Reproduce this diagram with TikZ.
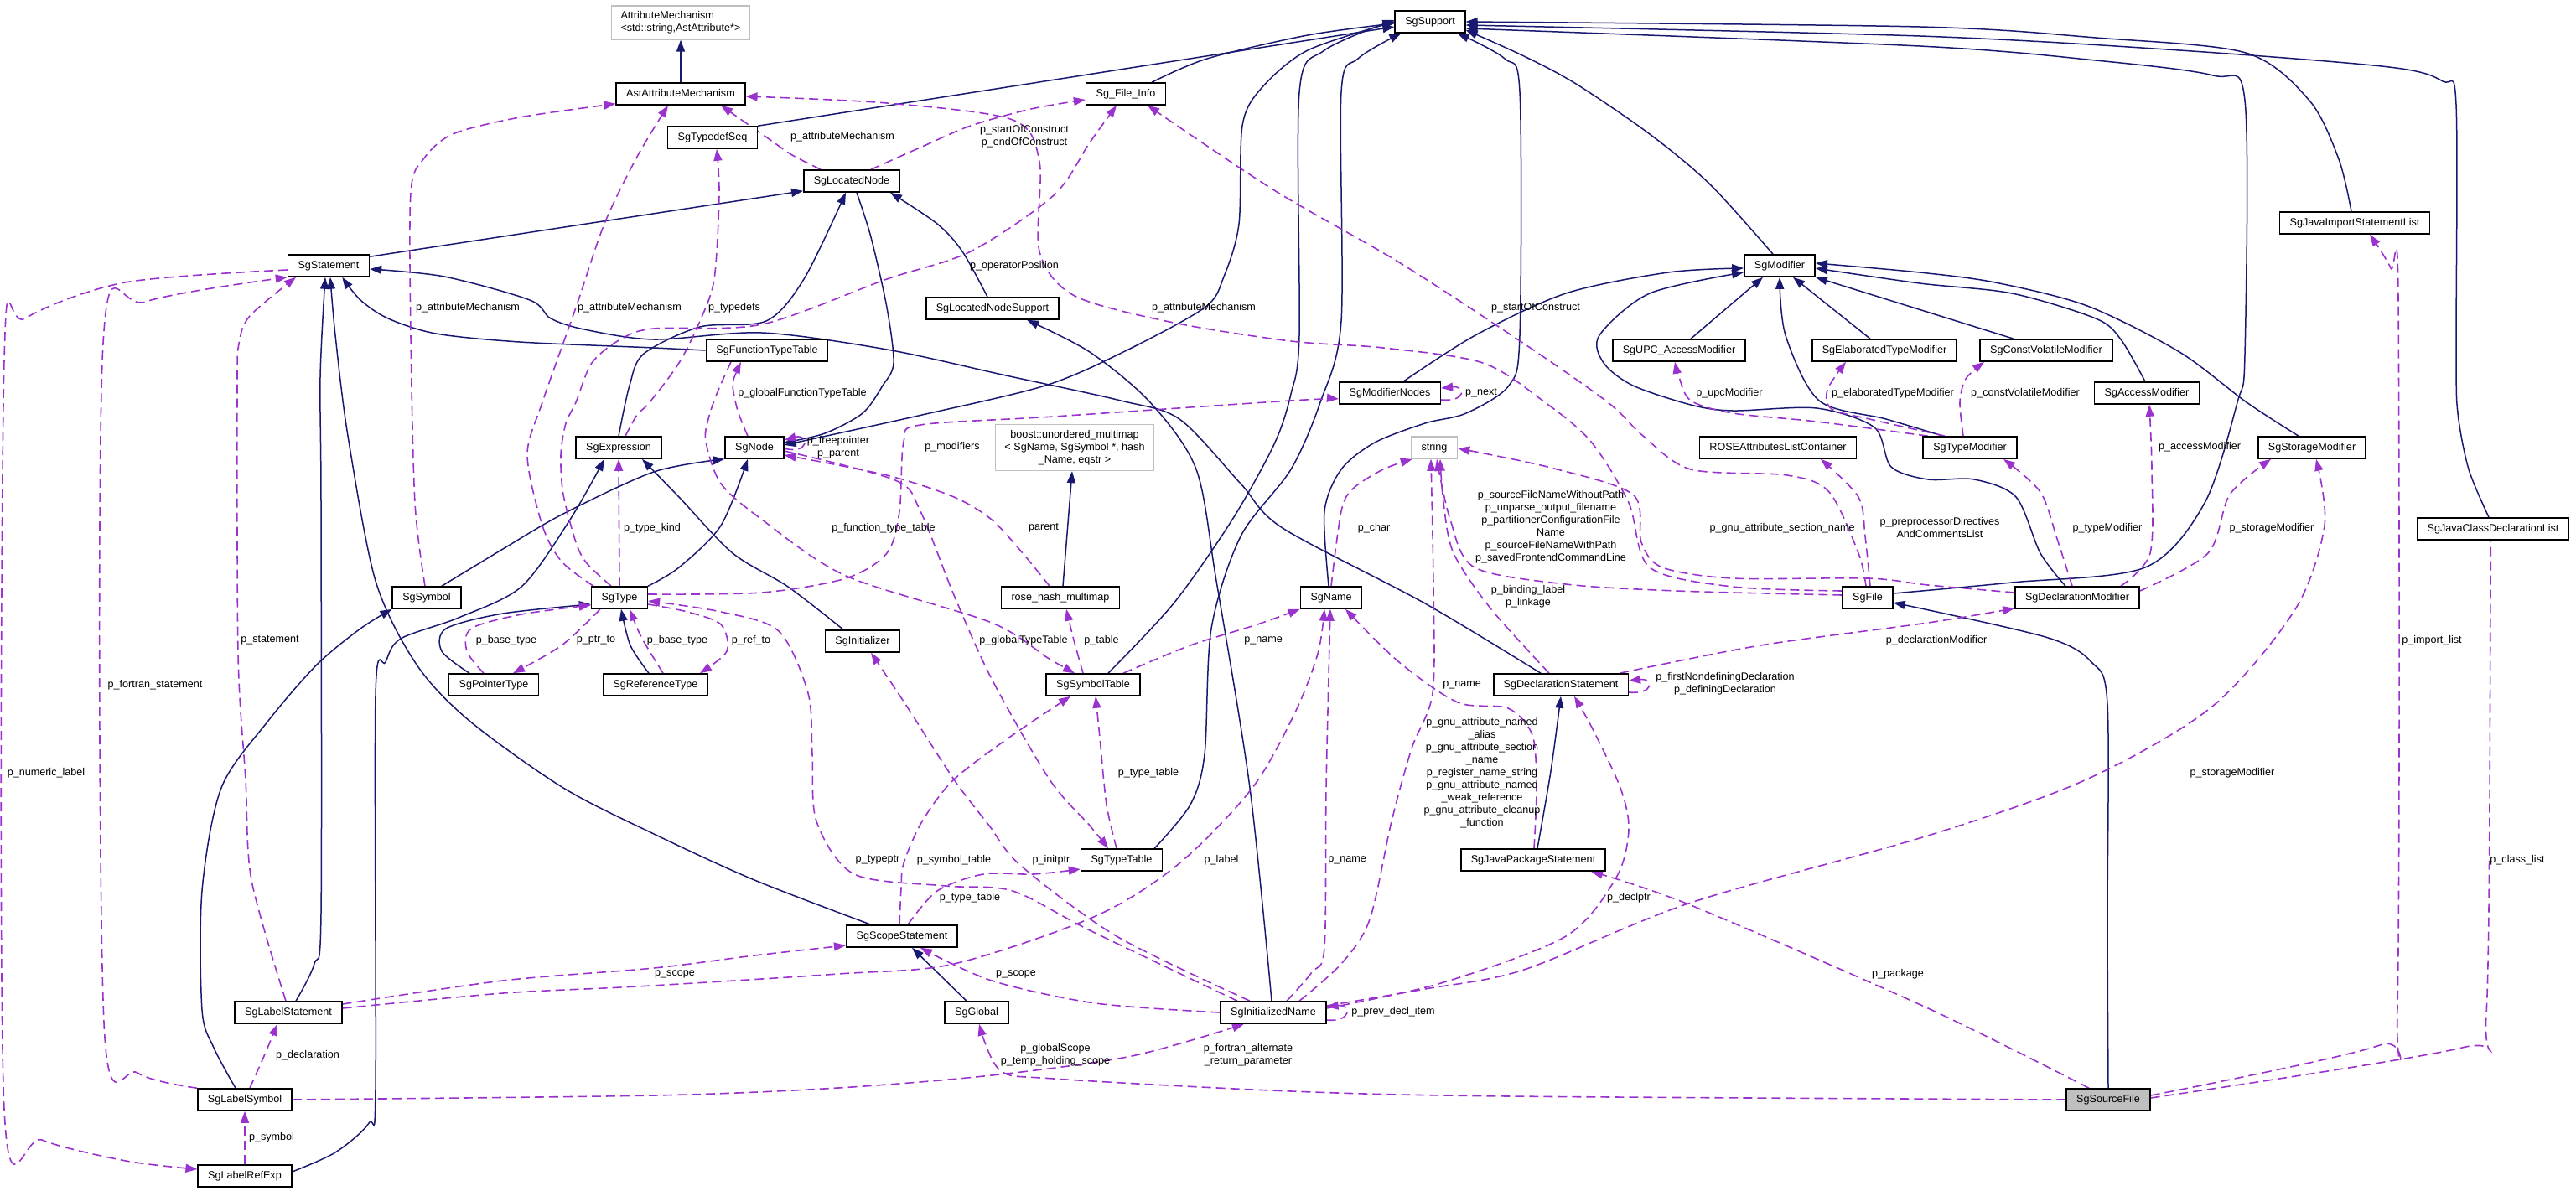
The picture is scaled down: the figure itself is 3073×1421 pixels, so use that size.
\documentclass[tikz,border=0pt]{standalone}
\usepackage{fontspec}
\usepackage{tikz}
\usetikzlibrary{arrows.meta,backgrounds}
\newfontfamily\graphfont{Liberation Sans}
\newcommand\gfont{\graphfont\fontsize{12.6}{15}\selectfont}
\definecolor{inhcol}{HTML}{191970}
\definecolor{memcol}{HTML}{9A32CD}
\tikzset{
  cls/.style    ={rectangle, draw=black, fill=white, line width=1.6pt, font=\gfont,
                  inner xsep=12pt, inner ysep=0pt, minimum height=26pt,
                  text height=9.5pt, text depth=2.5pt},
  ext/.style    ={cls, draw=black!25},
  extml/.style  ={rectangle, draw=black!25, fill=white, line width=1.6pt, font=\gfont,
                  inner xsep=11pt, inner ysep=6.5pt},
  cur/.style    ={cls, fill=black!25},
  inherit/.style={draw=inhcol, line width=1.5pt, -{Triangle[length=14pt,width=10pt]}},
  member/.style ={draw=memcol, line width=1.6pt, dash pattern=on 11pt off 6pt,
                  -{Triangle[length=14pt,width=10pt]}},
  lbl/.style    ={font=\gfont, inner sep=0pt, align=center},
}

\begin{document}
\begin{tikzpicture}[x=1pt, y=-1pt]
  \useasboundingbox (0,0) rectangle (3073,1421);

  % classes
  \node[extml, align=left] (AttMech) at (812,27) {AttributeMechanism\\<std::string,AstAttribute*>};
  \node[cls] (AstAttMech)   at (812,112)  {AstAttributeMechanism};
  \node[cls] (TypedefSeq)   at (850,164)  {SgTypedefSeq};
  \node[cls] (LocatedNode)  at (1016,216) {SgLocatedNode};
  \node[cls] (FileInfo)     at (1343,112) {Sg\_File\_Info};
  \node[cls] (Support)      at (1706,26)  {SgSupport};
  \node[cls] (LocNodeSupport) at (1184,368) {SgLocatedNodeSupport};
  \node[cls] (FuncTypeTable) at (915,418) {SgFunctionTypeTable};
  \node[cls] (Statement)    at (392,317)  {SgStatement};
  \node[cls] (Modifier)     at (2123,317) {SgModifier};
  \node[cls] (UPCAccess)    at (2003,418) {SgUPC\_AccessModifier};
  \node[cls] (ElabType)     at (2248,418) {SgElaboratedTypeModifier};
  \node[cls] (ConstVol)     at (2441,418) {SgConstVolatileModifier};
  \node[cls] (ModNodes)     at (1658,469) {SgModifierNodes};
  \node[cls] (AccessMod)    at (2561,469) {SgAccessModifier};
  \node[cls] (JavaImport)   at (2809,266) {SgJavaImportStatementList};
  \node[cls] (Expression)   at (738,534)  {SgExpression};
  \node[cls] (Node)         at (900,534)  {SgNode};
  \node[extml, align=center] (Boost) at (1282,534) {boost::unordered\_multimap\\< SgName, SgSymbol *, hash\\\_Name, eqstr >};
  \node[ext] (String)       at (1711,534) {string};
  \node[cls] (ROSEAttr)     at (2121,534) {ROSEAttributesListContainer};
  \node[cls] (TypeMod)      at (2350,534) {SgTypeModifier};
  \node[cls] (StorageMod)   at (2758,534) {SgStorageModifier};
  \node[cls] (Symbol)       at (509,713)  {SgSymbol};
  \node[cls] (Type)         at (739,713)  {SgType};
  \node[cls] (RoseHash)     at (1265,713) {rose\_hash\_multimap};
  \node[cls] (Name)         at (1588,713) {SgName};
  \node[cls] (File)         at (2228,713) {SgFile};
  \node[cls] (DeclMod)      at (2478,713) {SgDeclarationModifier};
  \node[cls] (JavaClassList) at (2974,631) {SgJavaClassDeclarationList};
  \node[cls] (Initializer)  at (1029,765) {SgInitializer};
  \node[cls] (PointerType)  at (589,817)  {SgPointerType};
  \node[cls] (RefType)      at (782,817)  {SgReferenceType};
  \node[cls] (SymbolTable)  at (1304,817) {SgSymbolTable};
  \node[cls] (DeclStmt)     at (1862,817) {SgDeclarationStatement};
  \node[cls] (TypeTable)    at (1338,1026) {SgTypeTable};
  \node[cls] (JavaPackage)  at (1829,1026) {SgJavaPackageStatement};
  \node[cls] (ScopeStmt)    at (1076,1117) {SgScopeStatement};
  \node[cls] (LabelStmt)    at (344,1208) {SgLabelStatement};
  \node[cls] (Global)       at (1165,1208) {SgGlobal};
  \node[cls] (InitName)     at (1519,1208) {SgInitializedName};
  \node[cls] (LabelSymbol)  at (292,1312) {SgLabelSymbol};
  \node[cur] (SourceFile)   at (2515,1312) {SgSourceFile};
  \node[cls] (LabelRefExp)  at (292,1403) {SgLabelRefExp};

  \begin{scope}[on background layer]
  % inheritance
  \draw[inherit] (AstAttMech) -- (AttMech);
  \draw[inherit] (TypedefSeq.north east) -- ([yshift=-6pt]Support.west);
  \draw[inherit] plot[smooth] coordinates {([xshift=31pt]FileInfo.north) (1440,70) (1560,42) ([yshift=-2pt]Support.west)};
  \draw[inherit] ([yshift=-3pt]Statement.north east) -- ([yshift=2pt]LocatedNode.south west);
  \draw[inherit] plot[smooth] coordinates {(Expression.north) (751,460) (768,422) (835,390) (914,383) (959,333) ([xshift=-7pt]LocatedNode.south)};
  \draw[inherit] plot[smooth] coordinates {([xshift=-6pt]LocNodeSupport.north) (1148,300) (1118,267) ([xshift=-12pt]LocatedNode.south east)};
  \draw[inherit] plot[smooth] coordinates {([xshift=6pt]LocatedNode.south) (1039,283) (1058,367) (1066,433) (1053,460) (1029,493) (984,517) ([yshift=6pt]Node.east)};
  \draw[inherit] plot[smooth] coordinates {(Support.west) (1560,60) (1505,105) (1482,150) (1478,267) (1460,330) (1437,367) (1340,420) (1247,460) (1100,495) ([yshift=3pt]Node.east)};
  \draw[inherit] plot[smooth] coordinates {(FuncTypeTable.west) (780,415) (620,408) (520,398) (463,380) (430,358) ([xshift=-33pt]Statement.south east)};
  \draw[inherit] plot[smooth] coordinates {([xshift=-24pt]DeclStmt.north) (1700,720) (1530,630) (1480,577) (1407,500) (1337,478) (1200,448) (1058,417) (909,397) (780,405) (697,393) (657,380) (632,358) (530,330) ([yshift=-4pt]Statement.east)};
  \draw[inherit] plot[smooth] coordinates {([xshift=9pt]LabelStmt.north) (375,1150) (383,1090) (383,600) (382,450) ([xshift=-4pt]Statement.south)};
  \draw[inherit] plot[smooth] coordinates {([xshift=-37pt]ScopeStmt.north) (900,1050) (780,995) (672,940) (560,860) (497,793) (448,693) (415,520) (400,400) ([xshift=2pt]Statement.south)};
  \draw[inherit] plot[smooth] coordinates {([xshift=-8pt]Modifier.north) (2040,220) (1968,160) (1880,100) (1818,67) ([yshift=4pt]Support.south east)};
  \draw[inherit] plot[smooth] coordinates {([xshift=16pt]ModNodes.north) (1760,400) (1868,350) (1990,325) ([yshift=-3pt]Modifier.west)};
  \draw[inherit] ([xshift=14pt]UPCAccess.north) -- ([xshift=-20pt]Modifier.south);
  \draw[inherit] ([xshift=-17pt]ElabType.north) -- ([xshift=16pt]Modifier.south);
  \draw[inherit] ([xshift=-39pt]ConstVol.north) -- (Modifier.south east);
  \draw[inherit] plot[smooth] coordinates {([xshift=-32pt]TypeMod.north) (2250,500) (2170,478) (2130,400) (Modifier.south)};
  \draw[inherit] plot[smooth] coordinates {([xshift=-14pt]DeclMod.north) (2434,660) (2405,593) (2355,572) (2300,572) (2256,557) (2236,510) (2167,487) (2067,490) (2017,483) (1948,460) (1913,433) (1908,400) (1968,350) ([yshift=-8pt]Modifier.west)};
  \draw[inherit] plot[smooth] coordinates {([xshift=-16pt]StorageMod.north) (2680,480) (2600,420) (2490,365) (2380,337) (2290,325) ([yshift=3pt]Modifier.east)};
  \draw[inherit] plot[smooth] coordinates {([xshift=-2pt]AccessMod.north) (2530,405) (2500,380) (2400,350) (2290,338) ([yshift=-3pt]Modifier.east)};
  \draw[inherit] plot[smooth] coordinates {([xshift=-4pt]JavaImport.north) (2790,190) (2755,120) (2679,63) (2500,45) (2290,32) (Support.east)};
  \draw[inherit] plot[smooth] coordinates {([xshift=-5pt]JavaClassList.north) (2945,560) (2932,493) (2930,420) (2930,125) (2914,97) (2850,80) (2600,60) (2290,43) ([yshift=-4pt]Support.east)};
  \draw[inherit] plot[smooth] coordinates {([yshift=5pt]File.east) (2400,695) (2559,677) (2630,600) (2669,480) (2678,423) (2678,120) (2640,90) (2500,72) (2290,55) ([yshift=-8pt]Support.east)};
  \draw[inherit] plot[smooth] coordinates {([xshift=-3pt]Name.north) (1580,610) (1600,560) (1640,528) (1700,505) (1749,493) (1800,460) (1813,400) (1813,110) (1795,70) ([xshift=-10pt]Support.south east)};
  \draw[inherit] plot[smooth] coordinates {([xshift=18pt]SymbolTable.north) (1400,720) (1470,620) (1520,530) (1540,470) (1550,400) (1550,110) (1580,60) ([yshift=2pt]Support.west)};
  \draw[inherit] plot[smooth] coordinates {([xshift=-10pt]TypeTable.north east) (1420,960) (1437,900) (1445,750) (1480,640) (1540,560) (1575,480) (1600,383) (1600,110) (1620,70) ([xshift=8pt]Support.south west)};
  \draw[inherit] plot[smooth] coordinates {(SourceFile.north) (2514,1100) (2514,840) (2495,790) (2440,760) ([yshift=-6pt]File.east)};
  \draw[inherit] ([xshift=3pt]RoseHash.north) -- ([xshift=-3pt]Boost.south);
  \draw[inherit] plot[smooth] coordinates {(Type.north east) (810,677) (860,627) ([xshift=-8pt]Node.south)};
  \draw[inherit] plot[smooth] coordinates {([xshift=18pt]Symbol.north) (600,655) (672,613) (780,563) (Node.south west)};
  \draw[inherit] plot[smooth] coordinates {([xshift=-23pt]Initializer.north) (940,700) (874,660) (810,593) ([xshift=28pt]Expression.south)};
  \draw[inherit] plot[smooth] coordinates {([yshift=5pt]LabelRefExp.east) (400,1375) (440,1340) (448,1300) (448,830) (460,790) (478,762) (547,737) (622,700) (680,620) ([xshift=-17pt]Expression.south)};
  \draw[inherit] plot[smooth] coordinates {([xshift=-29pt]PointerType.north) (527,777) (532,750) (600,732) ([yshift=-8pt]Type.west)};
  \draw[inherit] plot[smooth] coordinates {([xshift=-8pt]RefType.north) (752,770) ([xshift=2pt]Type.south)};
  \draw[inherit] plot[smooth] coordinates {([xshift=-11pt]LabelSymbol.north) (255,1250) (241,1205) (241,1063) (264,940) (320,860) (378,793) (430,750) (Symbol.south west)};
  \draw[inherit] ([xshift=-12pt]Global.north) -- ([xshift=12pt]ScopeStmt.south);
  \draw[inherit] plot[smooth] coordinates {([xshift=5pt]JavaPackage.north) (1850,920) (DeclStmt.south)};
  \draw[inherit] plot[smooth] coordinates {([xshift=-2pt]InitName.north) (1491,940) (1451,693) (1427,560) (1372,480) (1300,420) ([xshift=41pt]LocNodeSupport.south)};

  % members
  \draw[member] plot[smooth] coordinates {([xshift=-2pt]Symbol.north) (495,600) (490,400) (490,230) (505,190) (540,160) (620,140) ([yshift=2pt]AstAttMech.south west)};
  \draw[member] plot[smooth] coordinates {([xshift=-31pt]Type.north) (670,670) (647,627) (629,543) (647,480) (687,367) (721,267) (760,187) ([xshift=-15pt]AstAttMech.south)};
  \draw[member] plot[smooth] coordinates {([xshift=-37pt]LocatedNode.north) (945,185) (919,167) ([xshift=48pt]AstAttMech.south)};
  \draw[member] plot[smooth] coordinates {([yshift=8pt]File.west) (2067,700) (1968,677) (1943,600) (1898,527) (1843,480) (1769,433) (1650,415) (1540,407) (1400,385) (1282,353) (1240,300) (1240,193) (1208,143) (1058,123) ([yshift=-3pt]AstAttMech.east)};
  \draw[member] plot[smooth] coordinates {([xshift=23pt]LocatedNode.north) (1100,175) (1158,150) (1230,130) ([yshift=-7pt]FileInfo.west)};
  \draw[member] plot[smooth] coordinates {([xshift=-10pt]Type.north) (700,672) (687,647) (672,590) (669,543) (675,505) (687,480) (706,433) (740,405) (780,392) (909,387) (1058,333) (1158,300) (1257,233) (1300,170) ([xshift=-11pt]FileInfo.south)};
  \draw[member] plot[smooth] coordinates {([xshift=8pt]Expression.north) (760,495) (775,480) (810,433) (835,383) (852,333) (858,233) ([xshift=5pt]TypedefSeq.south)};
  \draw[member] plot[smooth] coordinates {([xshift=-2pt]File.north) (2217,660) (2182,587) (2132,567) (2017,560) (1960,520) (1918,480) (1818,410) (1669,313) (1520,227) ([xshift=26pt]FileInfo.south)};
  \draw[member] ([yshift=-1pt]Node.east) .. controls +(30,8) and +(30,-8) .. ([yshift=9pt]Node.east);
  \draw[member] plot[smooth] coordinates {([xshift=-8pt]Node.north) (880,490) (874,460) (878,445) ([xshift=-31pt]FuncTypeTable.south)};
  \draw[member] plot[smooth] coordinates {([yshift=-4pt]Node.east) (1068,573) (1098,610) (1138,710) (1183,810) (1252,930) (1300,985) ([xshift=-16pt]TypeTable.north)};
  \draw[member] plot[smooth] coordinates {([xshift=-13pt]RoseHash.north) (1220,660) (1183,620) (1138,593) (1058,567) ([yshift=-9pt]Node.east)};
  \draw[member] plot[smooth] coordinates {([xshift=-43pt]FuncTypeTable.south) (855,470) (845,500) (842,527) (860,577) (909,620) (1009,687) (1183,743) (1250,785) ([xshift=-22pt]SymbolTable.north)};
  \draw[member] plot[smooth] coordinates {([yshift=4pt]Type.east) (909,707) (1009,690) (1058,660) (1073,610) (1078,527) (1098,507) (1257,497) (1540,478) ([yshift=-7pt]ModNodes.west)};
  \draw[member] (Type.north) -- (Expression.south);
  \draw[member] plot[smooth] coordinates {([xshift=-12pt]PointerType.north) (557,777) (562,750) (622,733) ([yshift=-9pt]Type.west)};
  \draw[member] plot[smooth] coordinates {([xshift=-23pt]Type.south) (670,770) ([xshift=23pt]PointerType.north)};
  \draw[member] plot[smooth] coordinates {([xshift=9pt]RefType.north) (765,760) ([xshift=12pt]Type.south)};
  \draw[member] plot[smooth] coordinates {([yshift=-8pt]Type.east) (820,730) (860,745) (867,777) ([xshift=53pt]RefType.north)};
  \draw[member] plot[smooth] coordinates {([xshift=-43pt]InitName.north) (1300,1110) (1208,1063) (1128,1057) (1019,1043) (974,980) (969,900) (964,827) (929,753) (860,730) ([yshift=-4pt]Type.east)};
  \draw[member] plot[smooth] coordinates {([xshift=-28pt]InitName.north) (1332,1117) (1218,1033) (1180,985) (1138,930) (1080,840) ([xshift=10pt]Initializer.south)};
  \draw[member] plot[smooth] coordinates {([xshift=-3pt]ScopeStmt.north) (1075,1060) (1078,1030) (1100,980) (1138,930) (1208,877) ([xshift=-27pt]SymbolTable.south)};
  \draw[member] plot[smooth] coordinates {([xshift=7pt]ScopeStmt.north) (1118,1063) (1173,1043) (1233,1043) ([yshift=-11pt]TypeTable.west)};
  \draw[member] plot[smooth] coordinates {([xshift=-6pt]TypeTable.north) (1320,960) (1312,880) ([xshift=3pt]SymbolTable.south)};
  \draw[member] plot[smooth] coordinates {([xshift=-12pt]SymbolTable.north) (1280,760) ([xshift=7pt]RoseHash.south)};
  \draw[member] plot[smooth] coordinates {([xshift=36pt]SymbolTable.north) (1420,770) (1500,745) (Name.south west)};
  \draw[member] plot[smooth] coordinates {([yshift=5pt]LabelStmt.east) (600,1185) (760,1177) (1000,1162) (1138,1150) (1307,1093) (1407,1030) (1494,940) (1545,850) (1572,780) ([xshift=-8pt]Name.south)};
  \draw[member] plot[smooth] coordinates {([yshift=10pt]LabelStmt.east) (600,1170) (780,1155) (900,1140) ([yshift=-11pt]ScopeStmt.west)};
  \draw[member] plot[smooth] coordinates {(InitName.west) (1307,1197) (1183,1170) ([xshift=22pt]ScopeStmt.south)};
  \draw[member] ([yshift=-9pt]InitName.east) .. controls +(30,3) and +(30,-3) .. ([yshift=7pt]InitName.east);
  \draw[member] plot[smooth] coordinates {([yshift=5pt]InitName.east) (1719,1173) (1868,1117) (1928,1047) (1943,990) (1933,940) (1900,870) ([xshift=16pt]DeclStmt.south)};
  \draw[member] plot[smooth] coordinates {([yshift=8pt]InitName.east) (1700,1180) (1818,1157) (2017,1077) (2300,997) (2489,930) (2639,843) (2738,727) (2773,627) ([xshift=5pt]StorageMod.south)};
  \draw[member] plot[smooth] coordinates {([xshift=16pt]InitName.north) (1565,1160) (1580,1130) (1582,940) ([xshift=-1pt]Name.south)};
  \draw[member] plot[smooth] coordinates {([xshift=31pt]InitName.north) (1600,1150) (1634,1097) (1660,980) (1684,893) (1709,827) (1710,700) ([xshift=-4pt]String.south)};
  \draw[member] plot[smooth] coordinates {([xshift=-14pt]DeclStmt.north) (1779,727) (1734,660) (1722,600) ([xshift=7pt]String.south)};
  \draw[member] plot[smooth] coordinates {([yshift=3pt]File.west) (2000,705) (1868,697) (1759,677) (1730,620) ([xshift=3pt]String.south)};
  \draw[member] plot[smooth] coordinates {([yshift=6pt]DeclMod.west) (2300,698) (2228,690) (2067,690) (1983,677) (1958,647) (1948,590) (1850,558) ([yshift=-1pt]String.east)};
  \draw[member] plot[smooth] coordinates {(Name.north) (1600,610) (1614,583) (1650,560) ([xshift=2pt]String.south west)};
  \draw[member] plot[smooth] coordinates {([xshift=3pt]File.north) (2225,640) (2217,593) ([xshift=51pt]ROSEAttr.south)};
  \draw[member] plot[smooth] coordinates {([xshift=-11pt]DeclStmt.north east) (2100,770) (2300,743) ([yshift=1pt]DeclMod.south west)};
  \draw[member] ([yshift=-9pt]DeclStmt.east) .. controls +(30,3) and +(30,-3) .. ([yshift=5pt]DeclStmt.east);
  \draw[member] plot[smooth] coordinates {([xshift=-50pt]TypeMod.north) (2167,503) (2067,493) (2017,478) (2003,450) ([xshift=-5pt]UPCAccess.south)};
  \draw[member] plot[smooth] coordinates {([xshift=-30pt]TypeMod.north) (2230,500) (2185,488) (2180,465) ([xshift=-46pt]ElabType.south)};
  \draw[member] plot[smooth] coordinates {([xshift=-8pt]TypeMod.north) (2338,480) (2345,452) ([xshift=-74pt]ConstVol.south)};
  \draw[member] plot[smooth] coordinates {([xshift=-6pt]DeclMod.north) (2454,643) (2434,587) ([xshift=40pt]TypeMod.south)};
  \draw[member] plot[smooth] coordinates {([xshift=52pt]DeclMod.north) (2565,660) (2567,560) ([xshift=3pt]AccessMod.south)};
  \draw[member] plot[smooth] coordinates {([yshift=8pt]DeclMod.east) (2634,660) (2660,590) ([xshift=-49pt]StorageMod.south)};
  \draw[member] plot[smooth] coordinates {([yshift=5pt]SourceFile.east) (2839,1247) (2860,1200) (2861,360) (2852,320) ([xshift=18pt]JavaImport.south)};
  \draw[member] plot[smooth] coordinates {([yshift=2pt]SourceFile.east) (2937,1250) (2966,1210) (2971,700) ([xshift=-3pt]JavaClassList.south)};
  \draw[member] plot[smooth] coordinates {([xshift=-23pt]SourceFile.north) (2300,1203) (2017,1080) ([xshift=69pt]JavaPackage.south)};
  \draw[member] plot[smooth] coordinates {(SourceFile.west) (1800,1308) (1540,1302) (1257,1287) (1193,1277) ([xshift=3pt]Global.south)};
  \draw[member] plot[smooth] coordinates {(LabelSymbol.east) (780,1307) (1000,1298) (1183,1283) (1350,1260) ([xshift=-35pt]InitName.south)};
  \draw[member] plot[smooth] coordinates {([yshift=-5pt]Statement.west) (149,337) (30,380) (5,430) (5,1323) (50,1360) (150,1385) ([yshift=8pt]LabelRefExp.west)};
  \draw[member] plot[smooth] coordinates {(LabelSymbol.north west) (164,1280) (124,1220) (123,410) (174,360) (Statement.south west)};
  \draw[member] plot[smooth] coordinates {([xshift=-3pt]LabelStmt.north) (300,1050) (293,930) (284,780) (283,460) (285,410) (298,377) ([xshift=-39pt]Statement.south)};
  \draw[member] plot[smooth] coordinates {([xshift=6pt]LabelSymbol.north) (315,1260) ([xshift=-13pt]LabelStmt.south)};
  \draw[member] (LabelRefExp) -- (LabelSymbol);
  \draw[member] plot[smooth] coordinates {([xshift=1pt]JavaPackage.north) (1833,940) (1828,877) (1799,845) (1739,838) (1669,790) ([xshift=17pt]Name.south)};
  \draw[member] ([yshift=-8pt]ModNodes.east) .. controls +(30,3) and +(30,-3) .. ([yshift=6pt]ModNodes.east);
  \end{scope}

  % member names
  \node[lbl] (l-attsym)   at (558,367)   {p\_attributeMechanism};
  \node[lbl] (l-atttype)  at (751,367)   {p\_attributeMechanism};
  \node[lbl] (l-attloc)   at (1005,163)  {p\_attributeMechanism};
  \node[lbl] (l-attfile)  at (1436,367)  {p\_attributeMechanism};
  \node[lbl] (l-construct) at (1222,163) {p\_startOfConstruct\\p\_endOfConstruct};
  \node[lbl] (l-oppos)    at (1210,317)  {p\_operatorPosition};
  \node[lbl] (l-typedefs) at (876,367)   {p\_typedefs};
  \node[lbl] (l-start)    at (1832,367)  {p\_startOfConstruct};
  \node[lbl] (l-free)     at (1000,534)  {p\_freepointer\\p\_parent};
  \node[lbl] (l-gfuncty)  at (957,469)   {p\_globalFunctionTypeTable};
  \node[lbl] (l-gtype)    at (1221,764)  {p\_globalTypeTable};
  \node[lbl] (l-parent)   at (1245,630)  {parent};
  \node[lbl] (l-functab)  at (1054,630)  {p\_function\_type\_table};
  \node[lbl] (l-mods)     at (1136,533)  {p\_modifiers};
  \node[lbl] (l-kind)     at (778,630)   {p\_type\_kind};
  \node[lbl] (l-base1)    at (604,764)   {p\_base\_type};
  \node[lbl] (l-ptrto)    at (711,764)   {p\_ptr\_to};
  \node[lbl] (l-base2)    at (808,764)   {p\_base\_type};
  \node[lbl] (l-refto)    at (896,764)   {p\_ref\_to};
  \node[lbl] (l-typeptr)  at (1047,1026) {p\_typeptr};
  \node[lbl] (l-initptr)  at (1254,1026) {p\_initptr};
  \node[lbl] (l-symtab)   at (1138,1026) {p\_symbol\_table};
  \node[lbl] (l-typetab1) at (1157,1071) {p\_type\_table};
  \node[lbl] (l-typetab2) at (1370,922)  {p\_type\_table};
  \node[lbl] (l-table)    at (1314,764)  {p\_table};
  \node[lbl] (l-name1)    at (1507,764)  {p\_name};
  \node[lbl] (l-label)    at (1457,1026) {p\_label};
  \node[lbl] (l-scope1)   at (805,1162)  {p\_scope};
  \node[lbl] (l-scope2)   at (1212,1162) {p\_scope};
  \node[lbl] (l-prev)     at (1662,1207) {p\_prev\_decl\_item};
  \node[lbl] (l-declptr)  at (1943,1071) {p\_declptr};
  \node[lbl] (l-stor1)    at (2663,922)  {p\_storageModifier};
  \node[lbl] (l-name2)    at (1607,1026) {p\_name};
  \node[lbl] (l-gnu)      at (1768,922)  {p\_gnu\_attribute\_named\\\_alias\\p\_gnu\_attribute\_section\\\_name\\p\_register\_name\_string\\p\_gnu\_attribute\_named\\\_weak\_reference\\p\_gnu\_attribute\_cleanup\\\_function};
  \node[lbl] (l-binding)  at (1823,712)  {p\_binding\_label\\p\_linkage};
  \node[lbl] (l-srcnames) at (1850,629)  {p\_sourceFileNameWithoutPath\\p\_unparse\_output\_filename\\p\_partitionerConfigurationFile\\Name\\p\_sourceFileNameWithPath\\p\_savedFrontendCommandLine};
  \node[lbl] (l-section)  at (2126,630)  {p\_gnu\_attribute\_section\_name};
  \node[lbl] (l-char)     at (1639,630)  {p\_char};
  \node[lbl] (l-preproc)  at (2314,629)  {p\_preprocessorDirectives\\AndCommentsList};
  \node[lbl] (l-declmod)  at (2310,764)  {p\_declarationModifier};
  \node[lbl] (l-decls)    at (2058,816)  {p\_firstNondefiningDeclaration\\p\_definingDeclaration};
  \node[lbl] (l-upc)      at (2063,469)  {p\_upcModifier};
  \node[lbl] (l-elab)     at (2258,469)  {p\_elaboratedTypeModifier};
  \node[lbl] (l-cv)       at (2416,469)  {p\_constVolatileModifier};
  \node[lbl] (l-typemod)  at (2514,630)  {p\_typeModifier};
  \node[lbl] (l-access)   at (2624,533)  {p\_accessModifier};
  \node[lbl] (l-stor2)    at (2710,630)  {p\_storageModifier};
  \node[lbl] (l-import)   at (2901,764)  {p\_import\_list};
  \node[lbl] (l-class)    at (3003,1026) {p\_class\_list};
  \node[lbl] (l-package)  at (2264,1162) {p\_package};
  \node[lbl] (l-global)   at (1259,1259) {p\_globalScope\\p\_temp\_holding\_scope};
  \node[lbl] (l-fortalt)  at (1489,1259) {p\_fortran\_alternate\\\_return\_parameter};
  \node[lbl] (l-numeric)  at (55,922)    {p\_numeric\_label};
  \node[lbl] (l-fortst)   at (185,817)   {p\_fortran\_statement};
  \node[lbl] (l-stmt)     at (322,764)   {p\_statement};
  \node[lbl] (l-decl)     at (367,1259)  {p\_declaration};
  \node[lbl] (l-symbol)   at (324,1357)  {p\_symbol};
  \node[lbl] (l-name3)    at (1744,817)  {p\_name};
  \node[lbl] (l-next)     at (1767,469)  {p\_next};
\end{tikzpicture}
\end{document}
